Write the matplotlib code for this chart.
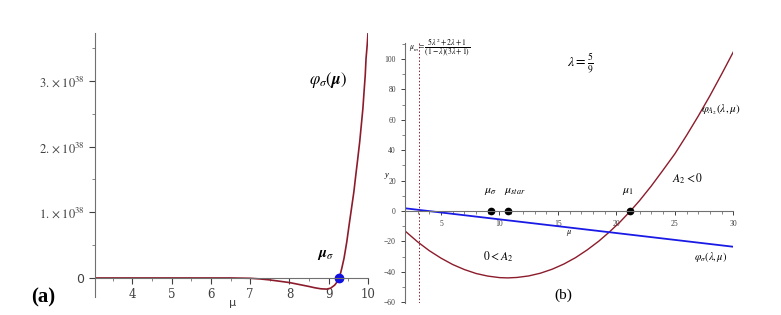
import numpy as np
import matplotlib
matplotlib.use('Agg')
import matplotlib.pyplot as plt

plt.rcParams['mathtext.fontset'] = 'stix'

# panel (a): phi_sigma(mu), values in units of 1e38
mu_a = [3.05, 5.0, 6.0, 6.5, 7.0, 7.25, 7.5, 7.75, 8.0, 8.25, 8.5, 8.65, 8.8, 8.95, 9.05, 9.15,
        9.22, 9.27, 9.33, 9.39, 9.46, 9.52, 9.58, 9.64, 9.69, 9.74, 9.79, 9.83, 9.87, 9.90,
        9.93, 9.95, 9.98, 10.0]
phi_a = [0.0, 0.0, 0.0, 0.0, -0.005, -0.015, -0.03, -0.05, -0.07, -0.10, -0.13, -0.15, -0.165,
         -0.17, -0.155, -0.11, -0.055, 0.0, 0.14, 0.30, 0.55, 0.81, 1.06, 1.31, 1.57, 1.82,
         2.08, 2.33, 2.58, 2.84, 3.09, 3.34, 3.55, 3.73]
mu_sigma_a = 9.27
ytick_a = [0, 1, 2, 3]
ylab_a = ['0', r'$1.\times10^{38}$', r'$2.\times10^{38}$', r'$3.\times10^{38}$']

# panel (b): lambda = 5/9
mu_b = [1.92, 3, 4, 5, 6, 7, 8, 9, 10, 10.7, 11.5, 12.5, 13.5, 14.5, 15.5, 16.5, 17.5,
        18.5, 19.4, 20.3, 21.2, 22, 23, 24, 25, 26, 27, 28, 29, 30]
phi_A2 = [-13.1, -20.3, -26.1, -31.0, -35.2, -38.5, -41.1, -42.8, -43.8, -44.0, -43.7, -42.7,
          -40.9, -38.3, -34.9, -30.7, -25.6, -19.8, -13.8, -7.3, 0.0, 7.0, 16.6, 27.0, 37.6,
          49.7, 62.4, 75.8, 90.0, 104.6]
mu_line = [1.92, 30.0]
phi_sig_b = [1.8, -23.5]
mu_m = 3.08
pts_b = [9.25, 10.7, 21.2]  # mu_sigma, mu_star, mu_1

brown = '#8c1c2c'
blue = '#1a1ae6'
grey = '#707070'

fig = plt.figure(figsize=(7.81, 3.15), dpi=100)

# ---------- (a) ----------
ax1 = fig.add_axes([95/781, 1-297/315, 273/781, 264/315])
ax1.plot(mu_a, phi_a, color=brown, lw=1.2)
ax1.plot([mu_sigma_a], [0], 'o', color='#1010e0', ms=6)
ax1.set_xlim(3.05, 10.0)
ax1.set_ylim(-0.29, 3.73)
ax1.spines['bottom'].set_position(('data', 0))
for s in ['top', 'right']:
    ax1.spines[s].set_visible(False)
for s in ['left', 'bottom']:
    ax1.spines[s].set_color(grey)
ax1.set_xticks(range(4, 11))
ax1.set_xticks(np.arange(3.5, 10.0, 0.5), minor=True)
ax1.set_yticks(ytick_a)
ax1.set_yticklabels(ylab_a)
ax1.set_yticks([0.5, 1.5, 2.5, 3.5], minor=True)
ax1.tick_params(colors='#404040', labelsize=8.5, length=4, width=0.8)
ax1.tick_params(axis='y', labelsize=9)
ax1.tick_params(which='minor', length=2.5, color=grey)
for t in ax1.get_xticklabels():
    t.set_family('DejaVu Serif')
ax1.text(8.97, 3.01, r'$\varphi_{\sigma}(\boldsymbol{\mu})$', fontsize=12, ha='center', va='center')
ax1.text(8.92, 0.35, r'$\boldsymbol{\mu}_{\sigma}$', fontsize=11, ha='center', va='center')
ax1.text(6.56, -0.38, 'μ', fontsize=8, ha='center', va='center', color='#404040', clip_on=False)
fig.text(43/781, 1-297/315, '(a)', fontsize=15, fontweight='bold', family='Liberation Serif',
         ha='center', va='center')

# ---------- (b) ----------
ax2 = fig.add_axes([405/781, 1-303/315, 328.3/781, 260/315])
ax2.plot(mu_b, phi_A2, color=brown, lw=1.0)
ax2.plot(mu_line, phi_sig_b, color=blue, lw=1.3)
ax2.axvline(mu_m, color=brown, ls=(0, (1.5, 2)), lw=0.7)
ax2.plot(pts_b, [0, 0, 0], 'o', color='black', ms=4.5)
ax2.set_xlim(1.92, 30)
ax2.set_ylim(-60.5, 110.5)
ax2.spines['bottom'].set_position(('data', 0))
for s in ['top', 'right']:
    ax2.spines[s].set_visible(False)
for s in ['left', 'bottom']:
    ax2.spines[s].set_color(grey)
ax2.set_xticks([5, 10, 15, 20, 25, 30])
ax2.set_xticks(np.arange(3, 30, 1), minor=True)
ax2.set_yticks([-60, -40, -20, 0, 20, 40, 60, 80, 100])
ax2.set_yticks(np.arange(-50, 111, 20), minor=True)
ax2.tick_params(colors='#404040', labelsize=5.5, length=3, width=0.7)
ax2.tick_params(which='minor', length=2, color=grey)
for t in ax2.get_xticklabels() + ax2.get_yticklabels():
    t.set_family('Liberation Serif')

sf = dict(ha='center', va='center', clip_on=False)
ax2.text(4.9, 108.0, r'$\mu_m=\dfrac{5\lambda^2+2\lambda+1}{(1-\lambda)(3\lambda+1)}$', fontsize=5.5, **sf)
ax2.text(16.9, 97.4, r'$\lambda=\frac{5}{9}$', fontsize=10, **sf)
ax2.text(28.9, 66.4, r'$\varphi_{A_2}(\lambda,\mu)$', fontsize=8, **sf)
ax2.text(26.06, 21, r'$A_2<0$', fontsize=8.5, **sf)
ax2.text(21.0, 13.8, r'$\mu_1$', fontsize=8.5, **sf)
ax2.text(9.2, 13.8, r'$\mu_\sigma$', fontsize=8.5, **sf)
ax2.text(11.3, 13.8, r'$\mu_{star}$', fontsize=8.5, **sf)
ax2.text(9.88, -30.3, r'$0<A_2$', fontsize=8.5, **sf)
ax2.text(28.1, -30.3, r'$\varphi_\sigma(\lambda,\mu)$', fontsize=7.5, **sf)
ax2.text(15.96, -14.5, r'$\mu$', fontsize=6, **sf)
ax2.text(0.38, 23.7, 'y', fontsize=6, style='italic', family='Liberation Serif', **sf)
ax2.text(15.45, -55.3, '(b)', fontsize=11, family='Liberation Serif', **sf)

fig.savefig('out.png', dpi=100)
